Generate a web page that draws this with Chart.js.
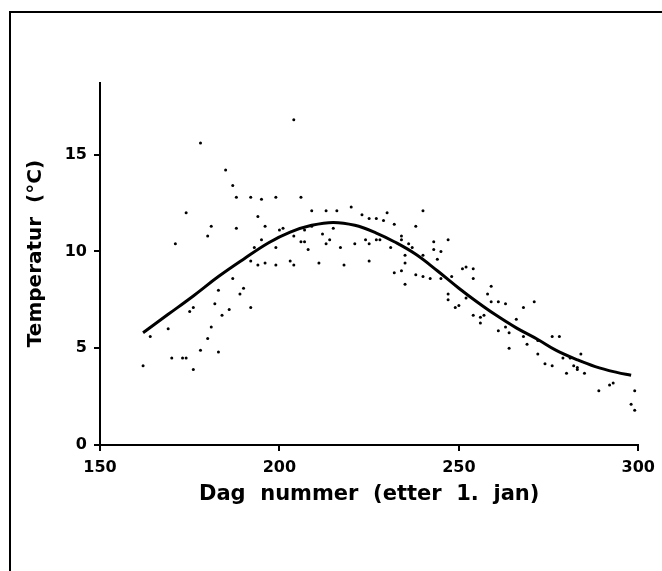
<!DOCTYPE html>
<html>
<head>
<meta charset="utf-8">
<script src="https://cdn.jsdelivr.net/npm/chart.js@4.4.0/dist/chart.umd.js"></script>
<style>
  html, body { margin: 0; padding: 0; background: #fff; }
  .wrap { position: relative; width: 662px; height: 571px; overflow: hidden; }
  .frame {
    position: absolute; left: 9px; top: 11px; width: 700px; height: 600px;
    border-top: 2px solid #000; border-left: 2px solid #000;
    pointer-events: none;
  }
  canvas { position: absolute; left: 0; top: 0; }
</style>
</head>
<body>
<div class="wrap">
  <canvas id="chart" width="662" height="571"></canvas>
  <div class="frame"></div>
</div>
<script>
// measured temperatures (day number, °C)
const obsDays = [
  178, 185, 187, 188, 192, 195, 199, 174, 194, 181, 188, 196, 180, 195, 200, 201,
  171, 193, 199, 192, 194, 196, 199, 187,
  183, 190, 189, 182, 186, 192, 175, 176, 184, 181, 169, 164, 180, 178, 183, 170,
  173, 174, 162, 176,
  204, 206, 209, 213, 216, 220, 223, 225, 227, 229, 230, 232, 240, 238, 209, 215,
  204, 206, 207, 207, 212, 213, 214, 217, 221, 224, 225, 227, 228, 231, 234, 234,
  236, 237, 235, 240, 243, 243, 245, 247, 203, 204, 208, 211, 218, 225, 235, 244,
  232, 234, 238, 240, 242, 245, 248, 251, 252, 254,
  235, 247, 247, 249, 250, 252, 254, 254,
  259, 258, 259, 261, 263, 271, 268, 256, 256, 257, 266, 261, 263, 264, 268, 269,
  272, 276, 278, 264, 272, 274, 276, 279, 281, 284, 280, 282, 283, 283, 285, 289,
  292, 293, 299, 298, 299
];
const obsTemps = [
  15.6, 14.2, 13.4, 12.8, 12.8, 12.7, 12.8, 12.0, 11.8, 11.3, 11.2, 11.3, 10.8, 10.6, 11.1, 11.2,
  10.4, 10.2, 10.2, 9.5, 9.3, 9.4, 9.3, 8.6,
  8.0, 8.1, 7.8, 7.3, 7.0, 7.1, 6.9, 7.1, 6.7, 6.1, 6.0, 5.6, 5.5, 4.9, 4.8, 4.5,
  4.5, 4.5, 4.1, 3.9,
  16.8, 12.8, 12.1, 12.1, 12.1, 12.3, 11.9, 11.7, 11.7, 11.6, 12.0, 11.4, 12.1, 11.3, 11.3, 11.2,
  10.8, 10.5, 10.5, 11.1, 10.9, 10.4, 10.6, 10.2, 10.4, 10.6, 10.4, 10.6, 10.6, 10.2, 10.8, 10.6,
  10.4, 10.2, 9.8, 9.8, 10.5, 10.1, 10.0, 10.6, 9.5, 9.3, 10.1, 9.4, 9.3, 9.5, 9.4, 9.6,
  8.9, 9.0, 8.8, 8.7, 8.6, 8.6, 8.7, 9.1, 9.2, 9.1,
  8.3, 7.8, 7.5, 7.1, 7.2, 7.6, 8.6, 6.7,
  8.2, 7.8, 7.4, 7.4, 7.3, 7.4, 7.1, 6.6, 6.3, 6.7, 6.5, 5.9, 6.1, 5.8, 5.6, 5.2,
  5.4, 5.6, 5.6, 5.0, 4.7, 4.2, 4.1, 4.5, 4.5, 4.7, 3.7, 4.1, 4.0, 3.9, 3.7, 2.8,
  3.1, 3.2, 2.8, 2.1, 1.8
];

// fitted curve
const fitDays  = [162, 169, 176, 183, 190, 197, 203, 209, 215, 221, 227, 232, 238, 244, 250, 255, 260, 266, 272, 277, 283, 288, 294, 298];
const fitTemps = [5.8, 6.75, 7.7, 8.7, 9.6, 10.45, 11.0, 11.35, 11.5, 11.35, 10.95, 10.5, 9.85, 9.0, 8.1, 7.4, 6.75, 6.05, 5.45, 4.9, 4.4, 4.05, 3.75, 3.6];

const xTicks = [150, 200, 250, 300];
const yTicks = [0, 5, 10, 15];

const FONT = '"DejaVu Sans", Verdana, sans-serif';

const toXY = (xs, ys) => xs.map((x, i) => ({x, y: ys[i]}));

const ctx = document.getElementById('chart').getContext('2d');

new Chart(ctx, {
  type: 'scatter',
  data: {
    datasets: [
      {
        type: 'line',
        data: toXY(fitDays, fitTemps),
        borderColor: '#000',
        borderWidth: 3,
        pointRadius: 0,
        fill: false,
        tension: 0.4,
      },
      {
        data: toXY(obsDays, obsTemps),
        backgroundColor: '#000',
        borderWidth: 0,
        pointRadius: 1.5,
      },
    ],
  },
  options: {
    responsive: false,
    animation: false,
    layout: {padding: {top: 83, right: 23, bottom: 0, left: 0}},
    plugins: {legend: {display: false}, tooltip: {enabled: false}},
    scales: {
      x: {
        type: 'linear',
        min: 150,
        max: 300,
        afterBuildTicks: s => { s.ticks = xTicks.map(v => ({value: v})); },
        afterFit: s => { s.height = 126; },
        ticks: {color: '#000', padding: 7, font: {family: FONT, size: 16, weight: 'bold'}},
        grid: {drawOnChartArea: false, color: '#000', lineWidth: 2, tickLength: 6},
        border: {color: '#000', width: 2},
        title: {
          display: true,
          text: 'Dag  nummer  (etter  1.  jan)',
          color: '#000',
          font: {family: FONT, size: 21, weight: 'bold'},
          padding: {top: 0, bottom: 64},
        },
      },
      y: {
        min: 0,
        max: 18.7,
        afterBuildTicks: s => { s.ticks = yTicks.map(v => ({value: v})); },
        afterFit: s => { s.width = 100; },
        ticks: {color: '#000', padding: 7, font: {family: FONT, size: 16, weight: 'bold'}},
        grid: {drawOnChartArea: false, color: '#000', lineWidth: 2, tickLength: 6},
        border: {color: '#000', width: 2},
        title: {
          display: true,
          // leading spaces nudge the label up to where the original sits
          text: '   Temperatur  (°C)',
          color: '#000',
          font: {family: FONT, size: 20, weight: 'bold'},
          padding: {top: 24, bottom: 0},
        },
      },
    },
  },
});
</script>
</body>
</html>
